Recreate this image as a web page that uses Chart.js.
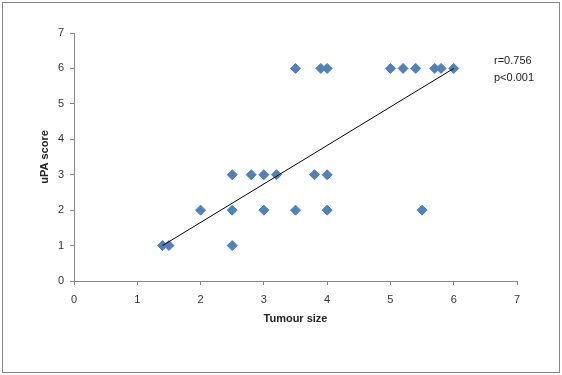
<!DOCTYPE html>
<html lang="en">
<head>
    <meta charset="UTF-8">
    <title>uPA score vs Tumour size</title>
    <script src="https://cdn.jsdelivr.net/npm/chart.js"></script>
    <style>
        body { margin: 0; background: #fff; }
        #wrap { width: 562px; height: 375px; }
    </style>
</head>
<body>
    <div id="wrap"><canvas id="scatterChart" width="562" height="375"></canvas></div>

    <script>
        // values
        const tumourSize = [1.4, 1.5, 2.5,
                            2.0, 2.5, 3.0, 3.5, 4.0, 5.5,
                            2.5, 2.8, 3.0, 3.2, 3.8, 4.0,
                            3.5, 3.9, 4.0, 5.0, 5.2, 5.4, 5.7, 5.8, 6.0];
        const upaScore = [1, 1, 1,
                          2, 2, 2, 2, 2, 2,
                          3, 3, 3, 3, 3, 3,
                          6, 6, 6, 6, 6, 6, 6, 6, 6];
        // ends of the fitted line
        const trendX = [1.4, 6.0];
        const trendY = [1.0, 6.0];
        const statLines = ['r=0.756', 'p<0.001'];

        const axisGrey = '#868686';
        const labelFont = { family: 'Liberation Sans', size: 11 };

        // frame round the chart and the r / p text
        const extras = {
            id: 'extras',
            beforeDraw(chart) {
                const ctx = chart.ctx;
                ctx.save();
                ctx.fillStyle = '#fff';
                ctx.fillRect(0, 0, chart.width, chart.height);
                ctx.strokeStyle = axisGrey;
                ctx.lineWidth = 1;
                ctx.strokeRect(2.5, 2.5, 557, 370);
                ctx.restore();
            },
            afterDraw(chart) {
                const ctx = chart.ctx;
                ctx.save();
                ctx.fillStyle = '#222';
                ctx.font = '11px "Liberation Sans"';
                ctx.textBaseline = 'middle';
                statLines.forEach((t, i) => ctx.fillText(t, 494, 61 + i * 17));
                ctx.restore();
            }
        };

        new Chart(document.getElementById('scatterChart'), {
            type: 'scatter',
            data: {
                datasets: [
                    {
                        type: 'line',
                        label: 'fit',
                        data: trendX.map((x, i) => ({ x: x, y: trendY[i] })),
                        borderColor: '#000',
                        borderWidth: 1,
                        pointRadius: 0,
                        fill: false,
                        order: 0
                    },
                    {
                        label: 'uPA score',
                        data: tumourSize.map((x, i) => ({ x: x, y: upaScore[i] })),
                        pointStyle: 'rectRot',
                        pointRadius: 5,
                        backgroundColor: '#4F81BD',
                        borderColor: '#4F81BD',
                        borderWidth: 1,
                        order: 1
                    }
                ]
            },
            options: {
                responsive: false,
                animation: false,
                layout: { padding: { left: 38, right: 45, top: 33, bottom: 49 } },
                plugins: {
                    legend: { display: false },
                    tooltip: { enabled: false }
                },
                scales: {
                    x: {
                        type: 'linear',
                        min: 0,
                        max: 7,
                        afterFit: s => { s.height = 45; },
                        ticks: { stepSize: 1, color: '#333', font: labelFont, padding: 8 },
                        grid: { drawOnChartArea: false, color: axisGrey, tickLength: 4 },
                        border: { color: axisGrey },
                        title: {
                            display: true,
                            text: 'Tumour size',
                            color: '#222',
                            font: { family: 'Liberation Sans', size: 11, weight: 'bold' },
                            padding: 0
                        }
                    },
                    y: {
                        min: 0,
                        max: 7,
                        afterFit: s => { s.width = 36; },
                        ticks: { stepSize: 1, color: '#333', font: labelFont, padding: 6 },
                        grid: { drawOnChartArea: false, color: axisGrey, tickLength: 4 },
                        border: { color: axisGrey },
                        title: {
                            display: true,
                            text: 'uPA score',
                            color: '#222',
                            font: { family: 'Liberation Sans', size: 11, weight: 'bold' },
                            padding: 0
                        }
                    }
                }
            },
            plugins: [extras]
        });
    </script>
</body>
</html>
